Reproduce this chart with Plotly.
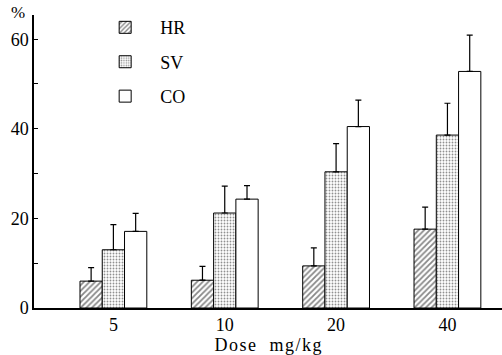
import plotly.graph_objects as go

doses = ["5", "10", "20", "40"]
hr = [6.0, 6.2, 9.4, 17.6]
hr_err = [3.0, 3.1, 4.0, 4.9]
sv = [13.0, 21.2, 30.4, 38.6]
sv_err = [5.6, 6.0, 6.3, 7.1]
co = [17.1, 24.3, 40.5, 52.8]
co_err = [4.0, 3.0, 5.9, 8.1]

FONT = "Liberation Serif"
xpos = list(range(len(doses)))

def err(vals):
    return dict(type="data", symmetric=False, array=vals, arrayminus=[0] * len(vals),
                color="black", thickness=1.2, width=3)

fig = go.Figure()
fig.add_trace(go.Bar(name="HR", x=xpos, y=hr, error_y=err(hr_err), legendgroup="a",
                     marker=dict(color="white", line=dict(color="black", width=1),
                                 pattern=dict(shape="/", fgcolor="#111", bgcolor="white",
                                              size=4, solidity=0.45))))
fig.add_trace(go.Bar(name="SV", x=xpos, y=sv, error_y=err(sv_err), legendgroup="b",
                     marker=dict(color="white", line=dict(color="black", width=1),
                                 pattern=dict(shape=".", fgcolor="#222", bgcolor="white",
                                              size=3, solidity=0.3))))
fig.add_trace(go.Bar(name="CO", x=xpos, y=co, error_y=err(co_err), legendgroup="c",
                     marker=dict(color="white", line=dict(color="black", width=1))))

fig.update_layout(
    width=502, height=355,
    margin=dict(l=34, r=0, t=15, b=47),
    paper_bgcolor="white", plot_bgcolor="white",
    barmode="group", bargap=0.4, bargroupgap=0,
    font=dict(family=FONT, size=16, color="black"),
    showlegend=True,
    legend=dict(x=0.12, y=1.02, xanchor="left", yanchor="top",
                traceorder="grouped", tracegroupgap=8,
                font=dict(family=FONT, size=18), bgcolor="rgba(0,0,0,0)",
                itemwidth=60),
    xaxis=dict(range=[-0.713, 3.49], tickvals=xpos, ticktext=doses,
               showline=True, linecolor="black", linewidth=1.5, ticks="",
               showgrid=False, zeroline=False,
               title=dict(text="D\u200ao\u200as\u200ae\u2002 m\u200ag\u200a/\u200ak\u200ag",
                          font=dict(size=18), standoff=2),
               tickfont=dict(size=18)),
    yaxis=dict(range=[0, 65.4], tickvals=[0, 20, 40, 60],
               showline=True, linecolor="black", linewidth=1.5,
               ticks="inside", ticklen=4, tickcolor="black",
               minor=dict(tickvals=[10, 30, 50], ticks="inside", ticklen=4, tickcolor="black"),
               showgrid=False, zeroline=False, tickfont=dict(size=18)),
    annotations=[dict(text="%", xref="paper", yref="paper", x=-0.035, y=1.01,
                      xanchor="center", yanchor="middle", showarrow=False,
                      font=dict(family=FONT, size=17))],
)

fig.write_html("out.html")
